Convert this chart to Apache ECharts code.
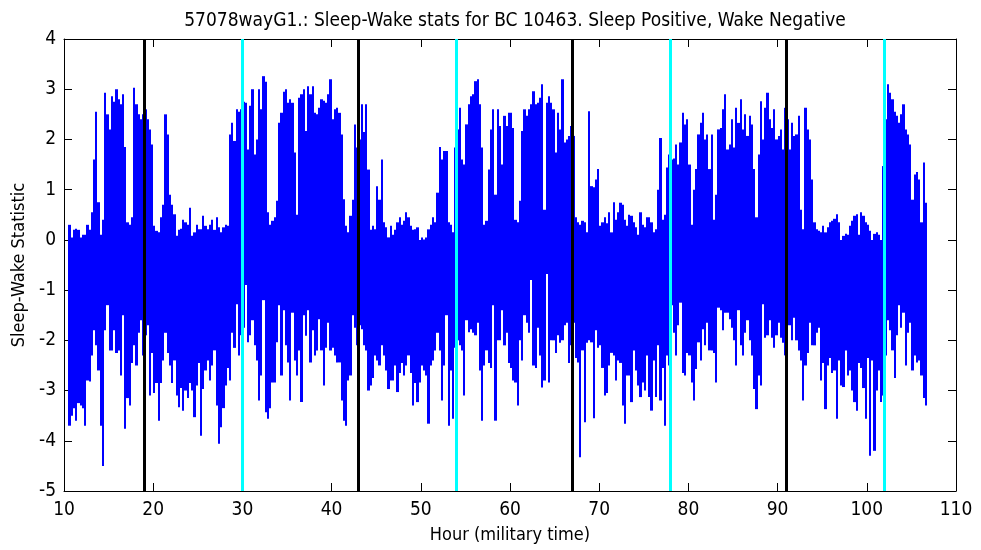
<!DOCTYPE html>
<html>
<head>
<meta charset="utf-8">
<script src="https://cdn.jsdelivr.net/npm/echarts@6/dist/echarts.min.js"></script>
<style>
  html, body { margin: 0; padding: 0; background: #ffffff; }
  #chart { width: 981px; height: 550px; }
</style>
</head>
<body>
<div id="chart"></div>
<script>
// Sleep-wake statistic per quarter hour: the highest and lowest value
// reached in each 0.25 h bin, starting at hour 10.5.
const startHour = 10.5;
const binHours = 0.25;

const upperValues = [
  // 10.5 - 26.25
  0.3, 0.05, 0.2, 0.22, 0.2, 0.05, 0.1, 0.1, 0.3, 0.2,
  0.55, 1.6, 2.55, 0.75, 0.1, 0.4, 2.93, 2.5, 2.2, 2.86,
  2.75, 3.0, 2.8, 2.7, 2.9, 1.85, 0.35, 0.3, 0.45, 3.03,
  2.7, 2.5, 2.4, 2.5, 2.6, 2.4, 2.2, 1.9, 0.28, 0.18,
  0.15, 0.45, 0.7, 2.5, 2.1, 0.9, 0.7, 0.51, 0.08, 0.2,
  0.22, 0.4, 0.35, 0.3, 0.64, 0.08, 0.15, 0.3, 0.21, 0.21,
  0.48, 0.28, 0.21, 0.3,
  // 26.5 - 42
  0.4, 0.2, 0.45, 0.25, 0.15, 0.25, 0.3, 0.28, 2.1, 2.33,
  1.97, 2.6, 2.55, 2.6, 2.75, 2.73, 1.8, 2.67, 3.0, 1.7,
  2.0, 3.0, 2.6, 3.26, 3.15, 0.55, 0.3, 0.38, 0.45, 0.78,
  2.33, 2.53, 2.95, 3.0, 2.73, 2.8, 2.73, 1.74, 0.5, 2.83,
  2.9, 3.0, 2.17, 3.06, 2.9, 3.06, 2.53, 2.5, 2.63, 2.8,
  2.77, 2.73, 2.9, 3.2, 2.4, 2.6, 2.63, 2.53, 2.1, 0.81,
  0.28, 0.15, 0.48,
  // 42.25 - 57.75
  0.8, 2.3, 1.84, 2.0, 2.7, 2.15, 2.7, 1.4, 0.2, 0.28,
  0.21, 1.07, 0.8, 1.6, 0.35, 0.25, 0.05, 0.28, 0.1, 0.2,
  0.35, 0.45, 0.3, 0.38, 0.55, 0.45, 0.28, 0.2, 0.21, 0.25,
  0.0, 0.05, 0.01, 0.05, 0.21, 0.3, 0.45, 0.35, 0.94, 1.85,
  1.6, 1.77, 1.77, 0.35, 0.3, 0.15, 1.84, 2.2, 2.63, 1.6,
  1.5, 2.3, 2.7, 2.86, 2.9, 3.16, 3.2, 2.7, 1.84, 0.3,
  0.38, 1.4, 2.2,
  // 58 - 73.5
  2.6, 0.9, 2.6, 2.27, 1.5, 2.47, 2.27, 2.53, 2.53, 2.23,
  0.4, 0.35, 0.78, 2.17, 2.6, 2.47, 2.6, 2.7, 2.96, 2.7,
  2.73, 2.83, 3.1, 0.6, 2.73, 2.86, 2.73, 2.6, 1.74, 2.53,
  2.2, 3.2, 1.94, 2.0, 2.07, 2.27, 2.07, 0.45, 0.35, 0.3,
  0.38, 0.35, 0.15, 2.56, 1.07, 1.05, 1.2, 1.41, 0.28, 0.35,
  0.45, 0.33, 0.55, 0.15, 0.75, 0.4, 0.55, 0.74, 0.7, 0.4,
  0.28, 0.5, 0.48,
  // 73.75 - 89.5
  0.35, 0.25, 0.1, 0.55, 0.3, 0.25, 0.45, 0.45, 0.35, 0.15,
  0.21, 1.0, 2.03, 0.4, 0.5, 1.44, 1.7, 1.6, 1.62, 1.9,
  1.5, 1.94, 2.53, 2.3, 2.4, 1.5, 0.3, 1.0, 1.41, 2.1,
  2.33, 2.53, 2.0, 2.1, 1.41, 2.1, 0.4, 0.9, 2.2, 2.23,
  2.6, 2.9, 1.8, 1.9, 2.4, 1.84, 2.63, 2.33, 2.8, 2.2,
  2.5, 2.07, 2.47, 2.3, 1.41, 0.45, 1.7, 2.76, 2.0, 2.63,
  2.93, 2.4, 2.23, 2.6,
  // 89.75 - 106.5
  2.0, 2.07, 2.2, 1.8, 2.63, 2.4, 1.8, 2.33, 2.07, 2.1,
  2.47, 0.6, 0.21, 2.63, 2.2, 2.0, 1.2, 0.35, 0.21, 0.18,
  0.15, 0.28, 0.15, 0.25, 0.35, 0.38, 0.42, 0.51, 0.35, 0.0,
  0.08, 0.12, 0.1, 0.28, 0.38, 0.48, 0.51, 0.1, 0.55, 0.48,
  0.35, 0.3, 0.18, 0.0, 0.12, 0.15, 0.1, 0.0, 1.47, 2.4,
  3.1, 2.93, 2.8, 2.55, 2.47, 2.33, 2.5, 2.7, 2.2, 2.1,
  1.9, 0.8, 1.3, 1.35, 1.2, 0.35, 1.54, 0.74
];

const lowerValues = [
  // 10.5 - 26.25
  -3.7, -3.5, -3.35, -3.6, -3.25, -3.3, -3.35, -3.7, -2.8, -2.82,
  -2.3, -1.8, -2.1, -2.6, -3.7, -4.5, -1.8, -1.3, -2.2, -2.2,
  -1.8, -2.25, -2.2, -2.7, -1.5, -3.76, -3.15, -3.3, -2.45, -2.1,
  -2.5, -1.85, -1.6, -2.3, -1.9, -1.7, -3.1, -2.25, -3.05, -2.85,
  -3.6, -2.85, -2.4, -1.85, -2.25, -2.5, -2.85, -2.4, -3.1, -3.33,
  -2.95, -3.4, -3.0, -3.15, -2.85, -3.0, -3.53, -2.9, -2.45, -3.9,
  -2.97, -2.6, -2.4, -2.8,
  // 26.5 - 42
  -2.5, -2.2, -3.3, -4.06, -3.73, -3.35, -2.9, -2.55, -2.8, -1.85,
  -2.15, -1.28, -2.3, -1.9, -1.75, -0.9, -2.04, -1.9, -1.6, -2.1,
  -2.4, -3.2, -2.7, -1.2, -3.43, -3.56, -3.35, -2.84, -2.84, -2.04,
  -1.3, -2.7, -1.4, -2.1, -2.44, -3.2, -1.45, -2.4, -2.7, -2.2,
  -3.23, -1.5, -1.91, -1.4, -2.44, -1.8, -2.3, -2.2, -1.58, -2.2,
  -2.9, -2.15, -1.65, -2.2, -2.15, -2.3, -2.44, -2.44, -3.2, -3.6,
  -3.7, -2.8, -2.7,
  // 42.25 - 57.75
  -1.5, -1.75, -2.1, -1.7, -1.78, -2.1, -2.2, -3.0, -2.9, -2.75,
  -2.3, -2.4, -2.5, -2.1, -2.3, -2.6, -2.97, -2.8, -2.8, -2.5,
  -3.03, -2.65, -2.45, -2.7, -2.5, -2.3, -2.65, -3.3, -2.85, -3.23,
  -2.84, -2.5, -2.6, -2.7, -3.66, -2.5, -2.4, -2.2, -1.85, -2.2,
  -3.2, -2.5, -1.5, -3.7, -2.6, -3.56, -2.15, -2.0, -2.1, -2.2,
  -3.1, -1.6, -1.84, -1.78, -1.85, -1.9, -1.65, -2.6, -3.6, -2.5,
  -2.2, -2.45, -2.55,
  // 58 - 73.5
  -1.3, -3.6, -2.0, -2.0, -1.4, -2.1, -1.85, -2.45, -2.55, -2.8,
  -2.84, -3.3, -2.0, -2.4, -1.5, -1.65, -1.85, -0.8, -2.5, -2.55,
  -1.75, -2.3, -2.94, -2.8, -0.68, -2.84, -2.0, -2.0, -2.25, -1.9,
  -2.05, -2.0, -1.7, -1.65, -2.45, -2.1, -1.65, -2.35, -2.44, -4.33,
  -2.2, -3.63, -2.05, -2.0, -2.04, -3.55, -1.8, -2.15, -2.1, -2.55,
  -3.1, -3.05, -2.5, -2.25, -2.3, -2.8, -2.4, -2.45, -3.3, -3.66,
  -2.7, -2.7, -3.23,
  // 73.75 - 89.5
  -2.2, -2.6, -2.9, -3.13, -2.84, -3.0, -2.3, -3.13, -3.4, -2.4,
  -3.13, -2.1, -3.2, -2.55, -3.7, -2.3, -2.5, -1.3, -1.85, -2.3,
  -1.7, -1.25, -2.65, -2.7, -2.25, -2.3, -2.84, -3.2, -2.57, -2.04,
  -2.4, -1.78, -2.1, -1.65, -2.2, -2.2, -2.25, -2.84, -1.35, -1.4,
  -1.8, -1.45, -1.45, -1.58, -1.75, -2.0, -2.5, -1.4, -2.1, -2.3,
  -1.85, -1.6, -2.0, -2.3, -2.97, -3.37, -2.7, -2.9, -1.28, -1.95,
  -1.9, -1.6, -1.95, -2.15,
  // 89.75 - 106.5
  -1.9, -1.65, -1.95, -2.05, -2.3, -1.7, -1.7, -2.0, -1.55, -2.0,
  -2.2, -2.4, -3.2, -2.5, -2.25, -1.65, -2.1, -2.1, -1.85, -1.75,
  -2.8, -2.45, -3.37, -2.5, -2.35, -2.65, -2.6, -3.56, -2.4, -2.9,
  -2.93, -2.2, -2.7, -2.6, -3.0, -3.23, -3.4, -2.45, -2.55, -2.95,
  -3.56, -2.35, -4.3, -2.4, -4.2, -3.0, -2.6, -3.23, -3.1, -2.3,
  -1.6, -1.8, -2.2, -2.75, -1.9, -1.3, -1.75, -1.45, -2.5, -1.85,
  -1.65, -2.6, -2.3, -2.44, -2.4, -2.7, -3.15, -3.3
];

// Marker hours: black = lights off, cyan = lights on
const blackMarkerHours = [19, 43, 67, 91];
const cyanMarkerHours = [30, 54, 78, 102];

const xRange = { min: 10, max: 110, step: 10 };
const yRange = { min: -5, max: 4, step: 1 };

const titleText = '57078wayG1.: Sleep-Wake stats for BC 10463. Sleep Positive, Wake Negative';
const xTitle = 'Hour (military time)';
const yTitle = 'Sleep-Wake Statistic';

// One record per bin: [bin start hour, high, low]
const bins = upperValues.map((hi, i) => [startHour + i * binHours, hi, lowerValues[i]]);

const FONT = "'DejaVu Sans Condensed', 'Liberation Sans Narrow', 'DejaVu Sans', sans-serif";
const tickText = { fontFamily: FONT, fontSize: 19, color: '#000' };
const nameText = { fontFamily: FONT, fontSize: 18, color: '#000' };

function xAxisDef(pos, withLabels) {
  return {
    type: 'value', position: pos,
    min: xRange.min, max: xRange.max, interval: xRange.step,
    axisLine: { show: true, onZero: false, lineStyle: { color: '#000', width: 1 } },
    axisTick: { show: true, inside: true, length: 8, lineStyle: { color: '#000', width: 1 } },
    axisLabel: { show: withLabels, margin: 10, ...tickText },
    splitLine: { show: false },
    name: withLabels ? xTitle : '',
    nameLocation: 'middle', nameGap: 35,
    nameTextStyle: nameText
  };
}

function yAxisDef(pos, withLabels) {
  return {
    type: 'value', position: pos,
    min: yRange.min, max: yRange.max, interval: yRange.step,
    axisLine: { show: true, onZero: false, lineStyle: { color: '#000', width: 1 } },
    axisTick: { show: true, inside: true, length: 8, lineStyle: { color: '#000', width: 1 } },
    axisLabel: { show: withLabels, margin: 8, ...tickText },
    splitLine: { show: false },
    name: withLabels ? yTitle : '',
    nameLocation: 'middle', nameGap: 34, nameRotate: 90,
    nameTextStyle: nameText
  };
}

function markerLines(hours, color) {
  return {
    type: 'line', data: [], xAxisIndex: 0, yAxisIndex: 0, z: 5,
    markLine: {
      silent: true, animation: false,
      symbol: ['none', 'none'],
      label: { show: false },
      lineStyle: { color: color, width: 3, type: 'solid' },
      data: hours.map(h => ({ xAxis: h }))
    }
  };
}

const chart = echarts.init(document.getElementById('chart'), null, { renderer: 'canvas' });
chart.setOption({
  animation: false,
  backgroundColor: '#ffffff',
  title: {
    text: titleText, left: 510, top: 7, textAlign: 'center',
    textStyle: { fontFamily: FONT, fontSize: 19, color: '#000', fontWeight: 'normal' }
  },
  grid: { left: 64, top: 39, width: 892, height: 452, containLabel: false },
  xAxis: [xAxisDef('bottom', true), xAxisDef('top', false)],
  yAxis: [yAxisDef('left', true), yAxisDef('right', false)],
  series: [
    {
      // each bin is a vertical stroke from its low to its high,
      // snapped to whole pixels so neighbouring bins join without seams
      type: 'custom', xAxisIndex: 0, yAxisIndex: 0, z: 2,
      data: bins,
      encode: { x: 0, y: [1, 2] },
      renderItem: function (params, api) {
        const t = api.value(0);
        const top = api.coord([t, api.value(1)]);
        const bottom = api.coord([t + binHours, api.value(2)]);
        const x0 = Math.round(top[0]);
        const x1 = Math.round(bottom[0]);
        return {
          type: 'rect',
          shape: { x: x0, y: top[1], width: x1 - x0, height: bottom[1] - top[1] },
          style: { fill: '#0000ff' }
        };
      }
    },
    markerLines(blackMarkerHours, '#000000'),
    markerLines(cyanMarkerHours, '#00ffff')
  ]
});
</script>
</body>
</html>
